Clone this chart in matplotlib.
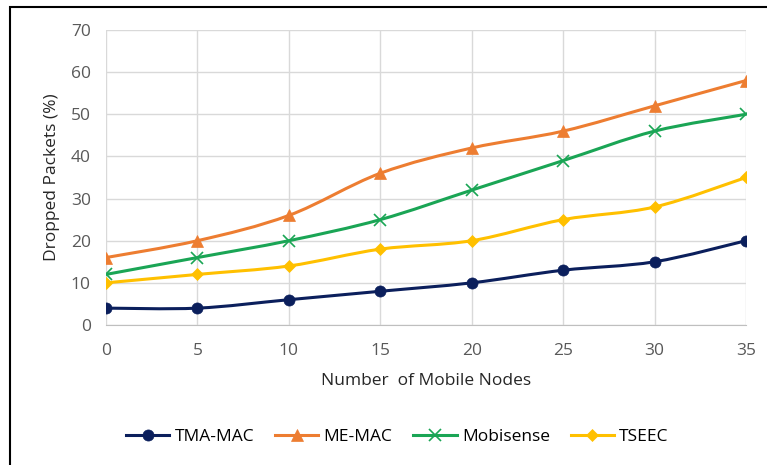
import numpy as np
import matplotlib
matplotlib.use("Agg")
import matplotlib.pyplot as plt
from matplotlib.path import Path
from matplotlib.patches import PathPatch, Rectangle
from matplotlib.lines import Line2D

plt.rcParams['font.family'] = ['Open Sans', 'DejaVu Sans']

nodes = [0, 5, 10, 15, 20, 25, 30, 35]
tma_mac = [4, 4, 6, 8, 10, 13, 15, 20]
me_mac = [16, 20, 26, 36, 42, 46, 52, 58]
mobisense = [12, 16, 20, 25, 32, 39, 46, 50]
tseec = [10, 12, 14, 18, 20, 25, 28, 35]

series = [
    ("TMA-MAC", tma_mac, "#0B1F5C", "o", 8),
    ("ME-MAC", me_mac, "#ED7D31", "^", 8),
    ("Mobisense", mobisense, "#1AA555", "x", 8),
    ("TSEEC", tseec, "#FFC000", "D", 6),
]


def smooth_path(x, y, t=0.5 / 3):
    # excel-like smoothed line: cubic bezier segments (catmull-rom tangents)
    x = np.asarray(x, float)
    y = np.asarray(y, float)
    n = len(x)
    verts = [(x[0], y[0])]
    codes = [Path.MOVETO]
    for i in range(n - 1):
        p0 = i - 1 if i > 0 else i
        p3 = i + 2 if i + 2 < n else i + 1
        c1 = (x[i] + (x[i + 1] - x[p0]) * t, y[i] + (y[i + 1] - y[p0]) * t)
        c2 = (x[i + 1] - (x[p3] - x[i]) * t, y[i + 1] - (y[p3] - y[i]) * t)
        verts += [c1, c2, (x[i + 1], y[i + 1])]
        codes += [Path.CURVE4] * 3
    return Path(verts, codes)


fig = plt.figure(figsize=(7.67, 4.65), dpi=100)
ax = fig.add_axes([0.1382, 0.3011, 0.8344, 0.6344])

fs = 12.5
handles = []
for name, vals, col, mk, ms in series:
    ax.add_patch(PathPatch(smooth_path(nodes, vals), fill=False, edgecolor=col, lw=2.2, zorder=3))
    ax.plot(nodes, vals, linestyle="none", marker=mk, color=col, markersize=ms,
            markeredgewidth=1.2 if mk == "x" else 0.5, zorder=4)
    handles.append(Line2D([], [], color=col, lw=2.2, marker=mk, markersize=ms,
                          markeredgewidth=1.2 if mk == "x" else 0.5))

ax.set_xlim(0, 35)
ax.set_ylim(0, 70)
ax.set_xticks(nodes)
ax.set_yticks(range(0, 71, 10))
ax.grid(True, color="#D9D9D9", lw=1)
ax.set_axisbelow(True)
for s in ax.spines.values():
    s.set_visible(False)
ax.spines['bottom'].set_visible(True)
ax.spines['bottom'].set_color("#BFBFBF")
ax.tick_params(length=0, labelsize=fs, labelcolor="#595959", pad=13)
ax.tick_params(axis='y', pad=11)

ax.set_xlabel("Number  of Mobile Nodes", fontsize=fs, color="#262626", labelpad=10)
ax.set_ylabel("Dropped Packets (%)", fontsize=fs, color="#262626", labelpad=8)

fig.legend(handles, [s[0] for s in series], loc="center", bbox_to_anchor=(0.518, 0.06),
           ncol=4, frameon=False, fontsize=fs, handlelength=2.5, columnspacing=1.2,
           handletextpad=0.3)

fig.patches.append(Rectangle((0.013, -0.05), 1.2, 1.035, transform=fig.transFigure,
                             fill=False, edgecolor="black", lw=1.5))

fig.savefig("out.png", dpi=100)
